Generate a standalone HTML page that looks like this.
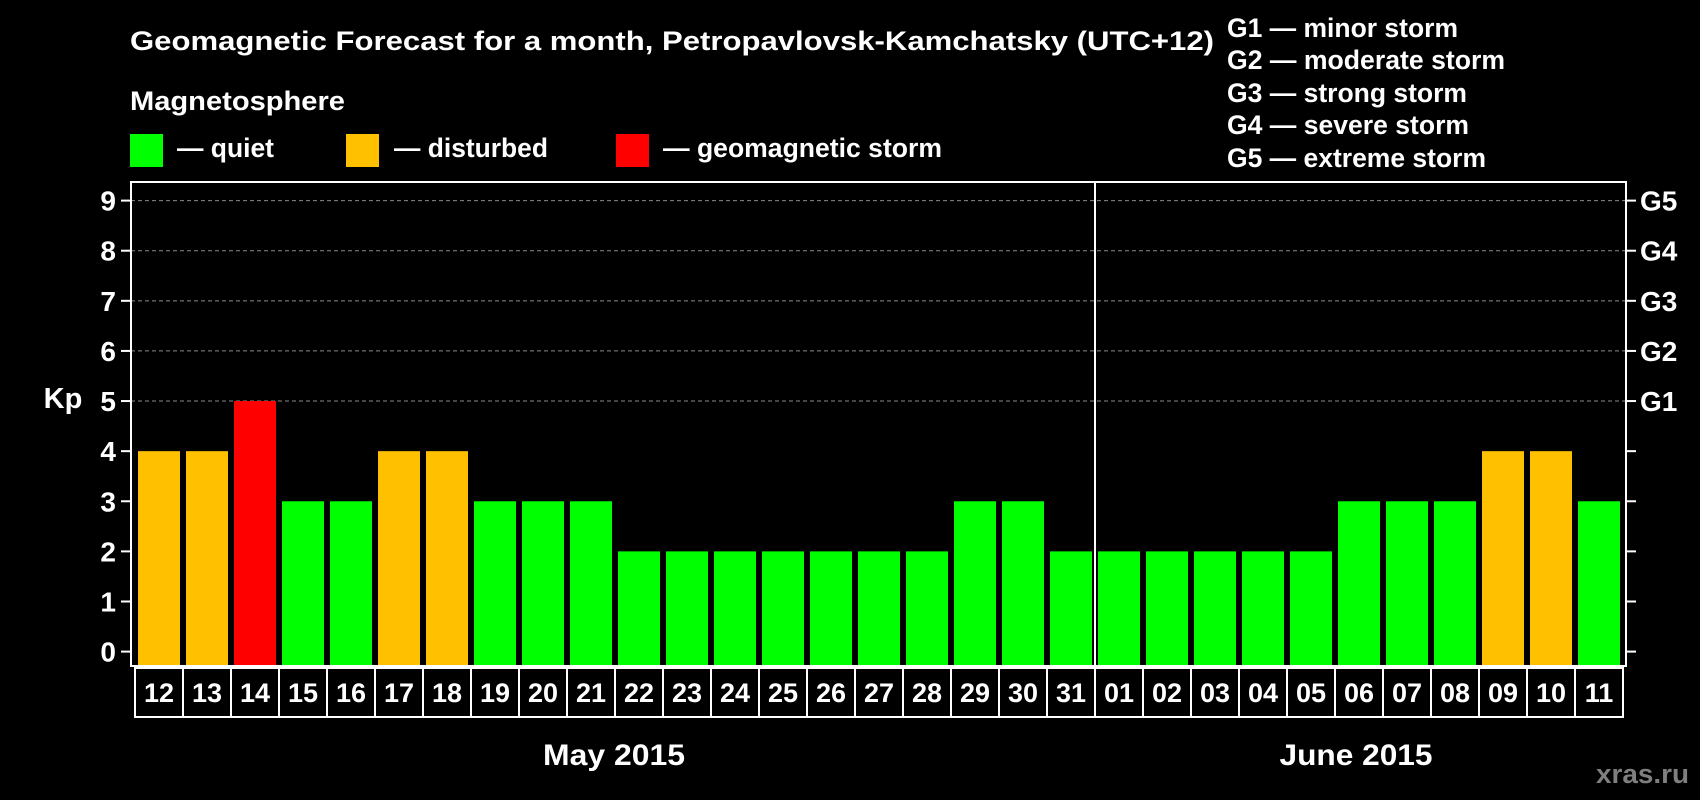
<!DOCTYPE html>
<html><head><meta charset="utf-8"><style>
html,body{margin:0;padding:0;background:#000;}
svg{display:block;font-family:"Liberation Sans",Arial,sans-serif;font-weight:bold;}
</style></head><body>
<svg id="chart" width="1700" height="800" viewBox="0 0 1700 800">
<rect width="1700" height="800" fill="#000"/>
<text x="130" y="50" fill="#fff" font-size="27" textLength="1084" lengthAdjust="spacingAndGlyphs">Geomagnetic Forecast for a month, Petropavlovsk-Kamchatsky (UTC+12)</text>
<text x="130" y="110" fill="#fff" font-size="27" textLength="215" lengthAdjust="spacingAndGlyphs">Magnetosphere</text>
<g><rect x="130" y="134" width="33" height="33" fill="#00ff00"/><text x="177" y="157" fill="#fff" font-size="27" textLength="97" lengthAdjust="spacingAndGlyphs">— quiet</text></g>
<g><rect x="346" y="134" width="33" height="33" fill="#ffc000"/><text x="394" y="157" fill="#fff" font-size="27" textLength="154" lengthAdjust="spacingAndGlyphs">— disturbed</text></g>
<g><rect x="616" y="134" width="33" height="33" fill="#ff0000"/><text x="663" y="157" fill="#fff" font-size="27" textLength="279" lengthAdjust="spacingAndGlyphs">— geomagnetic storm</text></g>
<g fill="#fff" font-size="27">
<text x="1227" y="37" textLength="231" lengthAdjust="spacingAndGlyphs">G1 — minor storm</text>
<text x="1227" y="69" textLength="278" lengthAdjust="spacingAndGlyphs">G2 — moderate storm</text>
<text x="1227" y="102" textLength="240" lengthAdjust="spacingAndGlyphs">G3 — strong storm</text>
<text x="1227" y="134" textLength="242" lengthAdjust="spacingAndGlyphs">G4 — severe storm</text>
<text x="1227" y="167" textLength="259" lengthAdjust="spacingAndGlyphs">G5 — extreme storm</text>
</g>
<g id="grid"></g>
<g id="bars"></g>
<g id="axes"></g>
<text x="63" y="408" fill="#fff" font-size="29" text-anchor="middle">Kp</text>
<text x="614" y="765" fill="#fff" font-size="30" text-anchor="middle" textLength="142" lengthAdjust="spacingAndGlyphs">May 2015</text>
<text x="1356" y="765" fill="#fff" font-size="30" text-anchor="middle" textLength="153" lengthAdjust="spacingAndGlyphs">June 2015</text>
<text x="1689" y="783" fill="#7f7f7f" font-size="27" text-anchor="end" textLength="93" lengthAdjust="spacingAndGlyphs">xras.ru</text>
</svg>
<script>
const days = ["12","13","14","15","16","17","18","19","20","21","22","23","24","25","26","27","28","29","30","31","01","02","03","04","05","06","07","08","09","10","11"];
const kpValues = [4,4,5,3,3,4,4,3,3,3,2,2,2,2,2,2,2,3,3,2,2,2,2,2,2,3,3,3,4,4,3];
const yTicks = [0,1,2,3,4,5,6,7,8,9];
const gLabels = ["","","","","","G1","G2","G3","G4","G5"];
const monthBreakIndex = 20;

const NS = "http://www.w3.org/2000/svg";
const L = 131, R = 1626, T = 182, B = 666;
const pitch = 48, barW = 42, x0 = 138;
function y(v){ return 651.6 - v * (451/9); }
function x(i){ return x0 + i * pitch; }
function mk(tag, attrs, parent){ const e = document.createElementNS(NS, tag); for (const k in attrs) e.setAttribute(k, attrs[k]); parent.appendChild(e); return e; }
function color(v){ return v >= 5 ? "#ff0000" : (v >= 4 ? "#ffc000" : "#00ff00"); }

const grid = document.getElementById("grid");
const bars = document.getElementById("bars");
const axes = document.getElementById("axes");

yTicks.forEach(function(t){
  if (t >= 5) {
    const gl = mk("line", {x1: L, x2: R, y1: y(t), y2: y(t), stroke: "#8a8a8a", "stroke-width": 1, "stroke-dasharray": "4,3"}, grid);
    
    
  }
  const lt = mk("line", {x1: L - 10, x2: L, y1: y(t), y2: y(t), stroke: "#fff", "stroke-width": 2}, axes);
  
  
  const rt = mk("line", {x1: R, x2: R + 10, y1: y(t), y2: y(t), stroke: "#fff", "stroke-width": 2}, axes);
  
  
  const lb = mk("text", {x: 116, y: y(t) + 10, fill: "#fff", "font-size": 28, "text-anchor": "end"}, axes);
  lb.textContent = t;
  
  
  if (gLabels[t]) {
    const gt = mk("text", {x: 1640, y: y(t) + 10, fill: "#fff", "font-size": 28}, axes);
    gt.textContent = gLabels[t];
    
    
  }
});

kpValues.forEach(function(v, i){
  const b = mk("rect", {x: x(i), y: y(v), width: barW, height: B - y(v), fill: color(v)}, bars);
  
  
  const c = mk("rect", {x: x(i) - 3, y: 668, width: pitch, height: 49, fill: "none", stroke: "#fff", "stroke-width": 2}, axes);
  
  
  const t = mk("text", {x: x(i) + barW/2, y: 702, fill: "#fff", "font-size": 27, "text-anchor": "middle"}, axes);
  t.textContent = days[i];
  
  
});

const frame = mk("rect", {x: L, y: T, width: R - L, height: B - T, fill: "none", stroke: "#fff", "stroke-width": 2}, axes);


const dx = x(monthBreakIndex) - 3;
const div = mk("line", {x1: dx, x2: dx, y1: T, y2: B, stroke: "#fff", "stroke-width": 2}, axes);


</script>
</body></html>
